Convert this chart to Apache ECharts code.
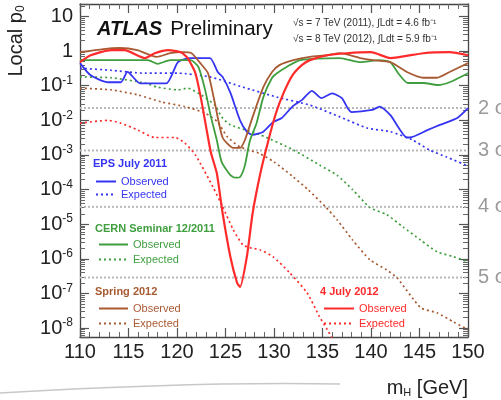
<!DOCTYPE html>
<html>
<head>
<meta charset="utf-8">
<script src="https://cdn.jsdelivr.net/npm/echarts@6/dist/echarts.min.js"></script>
<style>html,body{margin:0;padding:0;background:#fff;}#c{width:501px;height:400px;}</style>
</head>
<body>
<div id="c"></div>
<script>
// ---- data ----
const mH_epsObs = [110, 111.1, 112.9, 114.2, 114.9, 116.2, 118.9, 120.1, 121.4, 123.4, 124.2, 124.7, 125.5, 126.5, 127.2, 127.8, 128.9, 129.9, 130.8, 131.9, 132.9, 133.9, 134.9, 136, 137, 137.6, 138, 140.1, 140.9, 142, 143.7, 144, 145.8, 147.1, 148.9, 150];
const p_epsObs  = [0.45, 0.20, 0.126, 0.126, 0.25, 0.117, 0.117, 0.48, 0.63, 0.63, 0.25, 0.18, 0.063, 0.010, 0.0047, 0.0038, 0.0047, 0.0089, 0.0117, 0.025, 0.039, 0.071, 0.044, 0.060, 0.044, 0.0224, 0.0174, 0.020, 0.025, 0.0141, 0.0032, 0.0032, 0.0052, 0.0074, 0.0117, 0.0224];
const mH_epsExp = [110, 113.2, 116.7, 120.1, 123.4, 126.8, 130.3, 133.7, 136.8, 139.6, 142, 144.3, 146, 147.8, 150];
const p_epsExp  = [0.32, 0.28, 0.23, 0.23, 0.18, 0.091, 0.047, 0.0275, 0.0126, 0.006, 0.0047, 0.0027, 0.0014, 8.7e-4, 4.8e-4];

const mH_cernObs = [110, 117, 118, 119.3, 121.4, 122.2, 122.9, 123.5, 124.1, 124.6, 125.5, 126, 126.5, 127, 127.5, 128.2, 128.9, 129.8, 130.3, 131.3, 132.7, 136.8, 138.9, 140.9, 142, 142.8, 143.8, 145.4, 146.9, 148.1, 150];
const p_cernObs  = [0.55, 0.55, 0.43, 0.55, 0.55, 0.35, 0.076, 0.0126, 0.0027, 6.3e-4, 2.6e-4, 2.2e-4, 2.3e-4, 5.0e-4, 0.0025, 0.0083, 0.047, 0.17, 0.23, 0.35, 0.55, 0.63, 0.48, 0.55, 0.48, 0.23, 0.12, 0.12, 0.105, 0.126, 0.23];
const mH_cernExp = [110, 113.2, 116.7, 118, 120.1, 121.1, 122.5, 123.9, 124.6, 125.5, 128.6, 132, 134.7, 136.5, 138.1, 139.9, 141.6, 143.3, 145.1, 146.8, 148.5, 150];
const p_cernExp  = [0.18, 0.17, 0.12, 0.091, 0.076, 0.085, 0.054, 0.0275, 0.0126, 0.0074, 0.0038, 0.0014, 5.1e-4, 2.6e-4, 1.0e-4, 3.0e-5, 1.9e-5, 8.3e-6, 3.5e-6, 1.6e-6, 1.15e-6, 8.1e-7];

const mH_sprObs = [110, 112.4, 114.1, 115.9, 117.9, 119.3, 120.6, 121.5, 122.4, 123.2, 123.9, 124.7, 125.8, 126.5, 127, 127.8, 128.9, 129.8, 130.6, 132, 133.7, 135.5, 136.8, 138.9, 140.2, 142, 143.7, 145.4, 146.8, 148.1, 150];
const p_sprObs  = [0.93, 1.15, 1.23, 1.07, 0.68, 0.87, 0.93, 0.87, 0.45, 0.23, 0.032, 0.0032, 0.0016, 0.0016, 0.0027, 0.0126, 0.091, 0.25, 0.40, 0.55, 0.68, 0.76, 0.87, 0.63, 0.55, 0.48, 0.25, 0.17, 0.17, 0.25, 0.45];
const mH_sprExp = [110, 113.2, 116, 118.4, 120.8, 122.9, 124.2, 125.2, 126.5, 128.5, 130, 132, 133.5, 135.3, 136.5, 138.1, 139.9, 141.6, 142.7, 145.1, 146.8, 148.5, 150];
const p_sprExp  = [0.085, 0.076, 0.054, 0.034, 0.025, 0.0162, 0.0089, 0.0033, 0.0017, 0.0011, 6.3e-4, 2.3e-4, 1.0e-4, 3.2e-5, 1.35e-5, 3.5e-6, 9.3e-7, 4.8e-7, 2.8e-7, 3.9e-8, 2.75e-8, 1.5e-8, 8.9e-9];

const mH_julObs = [110, 111.1, 113.2, 114.6, 116.7, 117.7, 119.1, 120.4, 121.1, 121.9, 122.5, 123, 123.5, 124.1, 124.7, 125.5, 126.2, 126.5, 127.2, 127.8, 128.6, 129.4, 130.2, 131, 131.9, 132.9, 133.7, 135.5, 137.5, 140, 142, 145.4, 148.1, 150];
const p_julObs  = [0.48, 0.76, 1.07, 1.07, 0.63, 0.87, 1.07, 0.93, 0.63, 0.23, 0.039, 0.0065, 0.00115, 3.0e-4, 2.1e-5, 1.15e-6, 2.0e-7, 1.55e-7, 1.15e-6, 2.1e-5, 3.0e-4, 0.0025, 0.016, 0.063, 0.20, 0.40, 0.55, 0.76, 0.87, 0.93, 0.63, 0.87, 0.93, 0.76];
const mH_julExp = [110, 112.9, 114.2, 116, 117.7, 119.8, 120.8, 121.9, 123.7, 124.7, 125.8, 126.8, 127.5, 128.6, 129.9, 131.6, 133.4, 134.7, 135.5, 136.2];
const p_julExp  = [0.0083, 0.010, 0.0083, 0.0052, 0.0032, 0.0032, 0.0022, 0.0010, 1.2e-4, 3.2e-5, 6.9e-6, 2.5e-6, 2.1e-6, 1.8e-6, 1.15e-6, 4.0e-7, 1.05e-7, 2.1e-8, 8.9e-9, 4.0e-9];

const xRange = [110, 150];
const sigmaLevels = [0.02275, 1.35e-3, 3.17e-5, 2.87e-7];
const sigmaLabels = ['2 σ', '3 σ', '4 σ', '5 σ'];

// ---- chart ----
const zip = (a, b) => a.map((x, i) => [x, b[i]]);
const C = { blue: '#3434f2', green: '#3f9f3f', brown: '#a85a32', red: '#ff2b2b' };
const FONT = 'Liberation Sans, Arial, Helvetica, sans-serif';

function obs(name, color, xs, ys, w) {
  return { name, type: 'line', data: zip(xs, ys), symbol: 'none', smooth: 0.2, clip: true,
    lineStyle: { color, width: w || 1.8 }, itemStyle: { color }, z: 3 };
}
function exp(name, color, xs, ys) {
  return { name, type: 'line', data: zip(xs, ys), symbol: 'none', smooth: 0.2, clip: true,
    lineStyle: { color, width: 1.7, type: [2, 3] }, itemStyle: { color }, z: 3 };
}
function sigmaSeries(v, label) {
  return { name: label, type: 'line', data: [[xRange[0], v], [xRange[1], v]], symbol: 'none', z: 1, silent: true,
    lineStyle: { color: '#b8b8b8', type: [2, 2], width: 2 },
    endLabel: { show: true, formatter: label, distance: 10, color: '#9a9a9a', fontSize: 20, fontFamily: FONT } };
}
function legendFor(names, color, left, top, w, gap) {
  return { data: names, orient: 'vertical', left, top, padding: 0, itemWidth: w, itemHeight: 10, itemGap: gap,
    selectedMode: false, formatter: n => n.split(' ').pop(), itemStyle: { opacity: 0 },
    textStyle: { color, fontSize: 11, fontFamily: FONT } };
}

const yLog = (pos, showLabels) => ({
  type: 'log', logBase: 10, min: 5.5e-9, max: 23, position: pos,
  axisLine: { show: true, lineStyle: { color: '#444', width: 1.3 } },
  axisTick: { show: true, inside: true, length: 9, lineStyle: { color: '#555', width: 1.2 } },
  minorTick: { show: true, splitNumber: 9, length: 5, lineStyle: { color: '#666' } },
  splitLine: { show: false },
  axisLabel: {
    show: showLabels, margin: 7, showMinLabel: false, showMaxLabel: false,
    fontFamily: FONT, color: '#222',
    formatter: v => {
      const e = Math.round(Math.log10(v));
      if (e === 0) return '{b|1}';
      if (e === 1) return '{b|10}';
      return '{b|10}{s|' + e + '}';
    },
    rich: {
      b: { fontSize: 20, fontFamily: FONT, color: '#222', lineHeight: 22 },
      s: { fontSize: 12, fontFamily: FONT, color: '#222', verticalAlign: 'top', lineHeight: 12 }
    }
  }
});
const xLin = (pos, showLabels) => ({
  type: 'value', min: xRange[0], max: xRange[1], interval: 5, position: pos,
  axisLine: { show: true, onZero: false, lineStyle: { color: '#444', width: 1.3 } },
  axisTick: { show: true, inside: true, length: 9, lineStyle: { color: '#555', width: 1.2 } },
  minorTick: { show: true, splitNumber: 5, length: 5, lineStyle: { color: '#666' } },
  splitLine: { show: false },
  axisLabel: { show: showLabels, fontSize: 20, fontFamily: FONT, color: '#222', margin: 5 }
});

const chart = echarts.init(document.getElementById('c'), null, { renderer: 'canvas' });
const option = {
  animation: false,
  backgroundColor: '#fff',
  grid: { left: 80, right: 33, top: 4, bottom: 63, containLabel: false },
  xAxis: [xLin('bottom', true), xLin('top', false)],
  yAxis: [yLog('left', true), yLog('right', false)],
  legend: [
    legendFor(['EPS July 2011 Observed', 'EPS July 2011 Expected'], C.blue, 95, 176, 20, 2),
    legendFor(['CERN Seminar 12/2011 Observed', 'CERN Seminar 12/2011 Expected'], C.green, 98, 239, 29, 4),
    legendFor(['Spring 2012 Observed', 'Spring 2012 Expected'], C.brown, 98, 303, 29, 4),
    legendFor(['4 July 2012 Observed', '4 July 2012 Expected'], C.red, 323, 303, 30, 4)
  ],
  series: [
    ...sigmaLevels.map((v, i) => sigmaSeries(v, sigmaLabels[i])),
    exp('EPS July 2011 Expected', C.blue, mH_epsExp, p_epsExp),
    exp('CERN Seminar 12/2011 Expected', C.green, mH_cernExp, p_cernExp),
    exp('Spring 2012 Expected', C.brown, mH_sprExp, p_sprExp),
    exp('4 July 2012 Expected', C.red, mH_julExp, p_julExp),
    obs('EPS July 2011 Observed', C.blue, mH_epsObs, p_epsObs),
    obs('CERN Seminar 12/2011 Observed', C.green, mH_cernObs, p_cernObs),
    obs('Spring 2012 Observed', C.brown, mH_sprObs, p_sprObs),
    obs('4 July 2012 Observed', C.red, mH_julObs, p_julObs, 2.2)
  ],
  graphic: [
    { type: 'text', x: 16, y: 41, rotation: Math.PI / 2,
      style: { text: '{a|Local p}{b|0}', align: 'center', verticalAlign: 'middle',
        rich: { a: { fontSize: 20, fontFamily: FONT, fill: '#222' },
                b: { fontSize: 12, fontFamily: FONT, fill: '#222', verticalAlign: 'bottom', padding: [9, 0, 0, 0] } } } },
    { type: 'text', x: 468, y: 388,
      style: { text: '{a|m}{b|H}{a| [GeV]}', align: 'right', verticalAlign: 'middle',
        rich: { a: { fontSize: 20, fontFamily: FONT, fill: '#222' },
                b: { fontSize: 11, fontFamily: FONT, fill: '#222', verticalAlign: 'bottom', padding: [9, 0, 0, 0] } } } },
    { type: 'text', x: 97, y: 29,
      style: { text: '{a|ATLAS}{b|Preliminary}', verticalAlign: 'middle',
        rich: { a: { fontSize: 20, fontWeight: 'bold', fontStyle: 'italic', fontFamily: FONT, fill: '#111' },
                b: { fontSize: 20.5, fontFamily: FONT, fill: '#111', padding: [0, 0, 0, 8] } } } },
    { type: 'text', x: 293, y: 23, style: { text: '√s = 7 TeV (2011), ∫Ldt = 4.6 fb⁻¹', fontSize: 10, fontFamily: FONT, fill: '#333', verticalAlign: 'middle' } },
    { type: 'text', x: 293, y: 39, style: { text: '√s = 8 TeV (2012), ∫Ldt = 5.9 fb⁻¹', fontSize: 10, fontFamily: FONT, fill: '#333', verticalAlign: 'middle' } },
    { type: 'text', x: 93, y: 164, style: { text: 'EPS July 2011', fontSize: 11, fontWeight: 'bold', fontFamily: FONT, fill: C.blue, verticalAlign: 'middle' } },
    { type: 'text', x: 95, y: 229, style: { text: 'CERN Seminar 12/2011', fontSize: 11, fontWeight: 'bold', fontFamily: FONT, fill: C.green, verticalAlign: 'middle' } },
    { type: 'text', x: 95, y: 292, style: { text: 'Spring 2012', fontSize: 11, fontWeight: 'bold', fontFamily: FONT, fill: C.brown, verticalAlign: 'middle' } },
    { type: 'text', x: 320, y: 292, style: { text: '4 July 2012', fontSize: 11, fontWeight: 'bold', fontFamily: FONT, fill: C.red, verticalAlign: 'middle' } },
    { type: 'bezierCurve', shape: { x1: 0, y1: 393, x2: 340, y2: 384, cpx1: 120, cpy1: 386, cpx2: 240, cpy2: 382 },
      style: { stroke: '#c8c8c8', lineWidth: 1.5, fill: null }, silent: true }
  ]
};
chart.setOption(option);
</script>
</body>
</html>
